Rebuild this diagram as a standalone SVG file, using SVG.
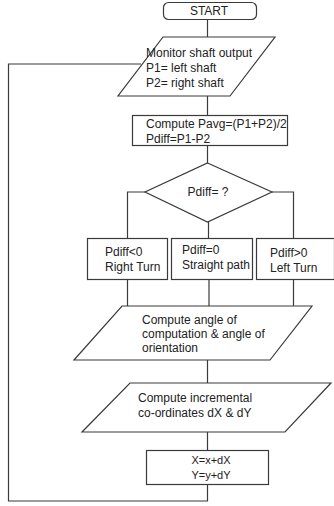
<svg xmlns="http://www.w3.org/2000/svg" width="334" height="506" viewBox="0 0 334 506">
<style>
.s{fill:#fff;stroke:#3a3a3a;stroke-width:1.2}
.c{fill:none;stroke:#3a3a3a;stroke-width:1.2}
text{font-family:"Liberation Sans",Arial,sans-serif;font-size:12px;fill:#222}
.m{text-anchor:middle}
</style>
<rect width="334" height="506" fill="#fff"/>
<g id="connectors">
<path class="c" d="M207.5 19V37M207.5 96V115M207.5 146V163M208.5 222V238M145 192H127.5V238M272 192H293.5V238M127.5 280V306M209 280V306M293.5 280V306M207.5 360V383M207.5 432V450M207.5 485V501H8.5V64H141"/>
</g>
<g id="start">
<rect class="s" x="163.5" y="2.5" width="93" height="17" rx="5"/>
<text class="m" x="209" y="15">START</text>
</g>
<g id="monitor">
<polygon class="s" points="163,37 275,37 230,96 118,96"/>
<text x="146" y="57">Monitor shaft output</text>
<text x="146" y="72">P1= left shaft</text>
<text x="146" y="87">P2= right shaft</text>
</g>
<g id="compute">
<rect class="s" x="132.5" y="115.5" width="155" height="30"/>
<text x="146" y="128">Compute Pavg=(P1+P2)/2</text>
<text x="146" y="143">Pdiff=P1-P2</text>
</g>
<g id="decision">
<polygon class="s" points="207.5,163 272,192 207.5,222 145,192"/>
<text class="m" x="208" y="196">Pdiff= ?</text>
</g>
<g id="right-turn">
<rect class="s" x="87.5" y="238.5" width="80" height="41"/>
<text x="105" y="256">Pdiff&lt;0</text>
<text x="105" y="271">Right Turn</text>
</g>
<g id="straight">
<rect class="s" x="171.5" y="238.5" width="81" height="41"/>
<text x="182" y="254">Pdiff=0</text>
<text x="182" y="269">Straight path</text>
</g>
<g id="left-turn">
<rect class="s" x="256.5" y="238.5" width="78" height="41"/>
<text x="270" y="257">Pdiff&gt;0</text>
<text x="270" y="272">Left Turn</text>
</g>
<g id="angle">
<polygon class="s" points="122,306 312,306 270,360 74,360"/>
<text x="142" y="324">Compute angle of</text>
<text x="142" y="338">computation &amp; angle of</text>
<text x="142" y="352">orientation</text>
</g>
<g id="incremental">
<polygon class="s" points="130,383 331,383 285,432 82,432"/>
<text x="138" y="402">Compute incremental</text>
<text x="138" y="417">co-ordinates dX &amp; dY</text>
</g>
<g id="update">
<rect class="s" x="146.5" y="450.5" width="122" height="34"/>
<text class="m" x="211" y="464" style="font-size:11px">X=x+dX</text>
<text class="m" x="211" y="479" style="font-size:11px">Y=y+dY</text>
</g>
</svg>
